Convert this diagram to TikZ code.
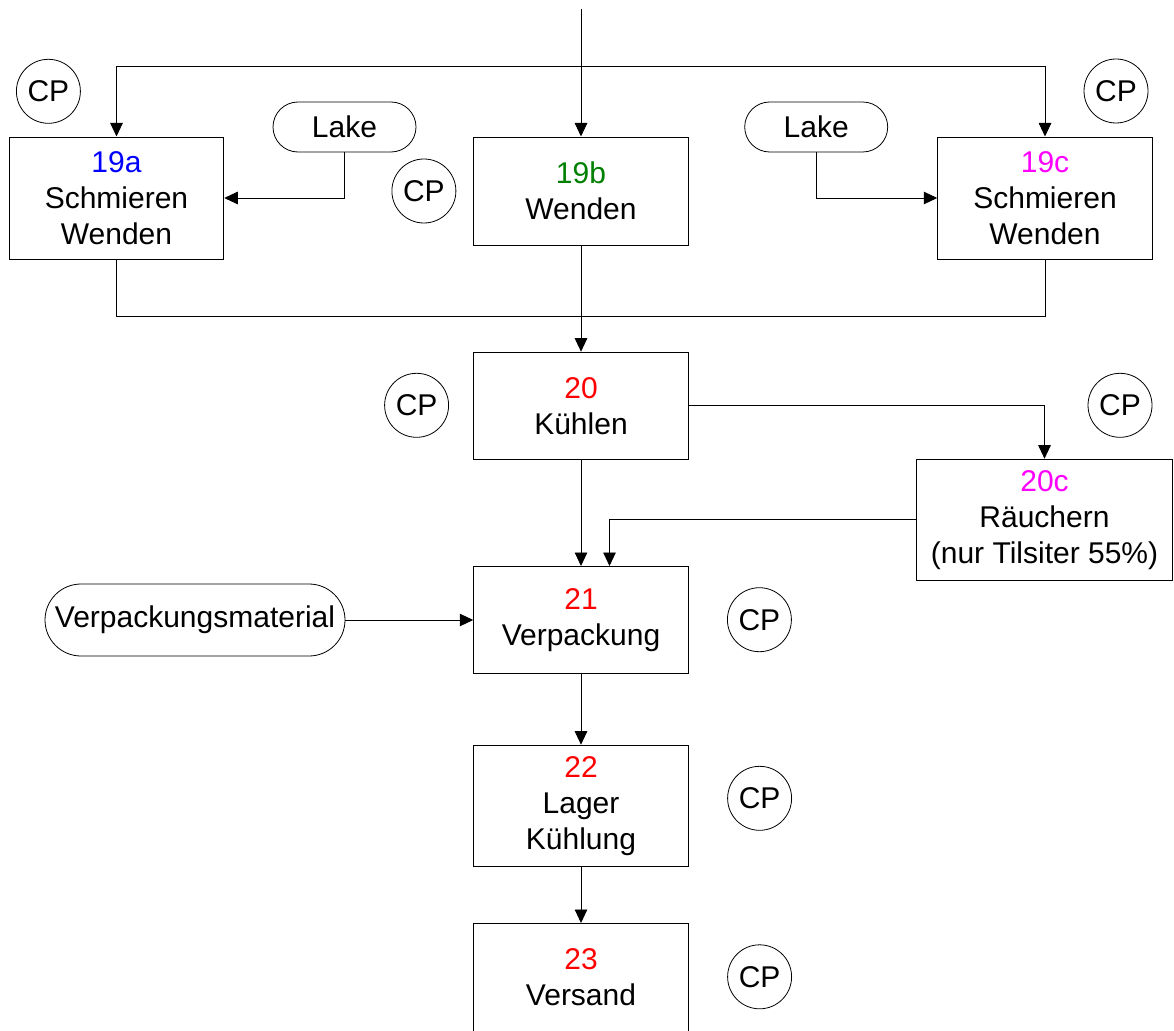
\documentclass[tikz,border=0pt]{standalone}
\usepackage{fontspec}
\setmainfont{Liberation Sans}
\usetikzlibrary{arrows.meta,calc}
\definecolor{numblue}{RGB}{0,0,255}
\definecolor{numgreen}{RGB}{0,128,0}
\definecolor{nummagenta}{RGB}{255,0,255}
\definecolor{numred}{RGB}{255,0,0}
\begin{document}
\begin{tikzpicture}[x=1pt,y=-1pt,
  every node/.style={font=\fontsize{30}{36}\selectfont, inner sep=0pt},
  stepbox/.style={draw, line width=1pt, align=center, minimum width=214.5pt},
  cp/.style={draw, circle, line width=0.8pt, minimum size=64pt},
  supply/.style={draw, line width=0.8pt, rounded corners=25pt, minimum height=50pt},
  flow/.style={-{Triangle[length=13.5pt,width=12.5pt]}, line width=0.9pt},
  plain/.style={line width=0.9pt}
]
\useasboundingbox[fill=white] (0,0) rectangle (1174,1030);

% process steps
\node[stepbox, minimum height=122pt] (s19a) at (116.5,198) {{\color{numblue}19a}\\Schmieren\\Wenden};
\node[stepbox, minimum height=108pt] (s19b) at (581,191) {{\color{numgreen}19b}\\Wenden};
\node[stepbox, minimum height=122pt] (s19c) at (1045,198) {{\color{nummagenta}19c}\\Schmieren\\Wenden};
\node[stepbox, minimum height=107pt] (s20) at (581,405.7) {{\color{numred}20}\\Kühlen};
\node[stepbox, minimum width=256pt, minimum height=121pt] (s20c) at (1044.5,519.7) {{\color{nummagenta}20c}\\Räuchern\\(nur Tilsiter 55\%)};
\node[stepbox, minimum height=107pt] (s21) at (581,620) {{\color{numred}21}\\Verpackung};
\node[stepbox, minimum height=121pt] (s22) at (581,805.7) {{\color{numred}22}\\Lager\\Kühlung};
\node[stepbox, minimum height=108pt] (s23) at (581,977.5) {{\color{numred}23}\\Versand};

% supplied materials
\node[supply, minimum width=143pt] (lake1) at (344.5,127) {Lake};
\node[supply, minimum width=143pt] (lake2) at (816.2,127) {Lake};
\node[supply, minimum width=300pt, minimum height=72pt, rounded corners=36pt] (vm) at (195,620) {Verpackungsmaterial};

% control points
\node[cp] (cp1) at (48.4,91.3) {CP};
\node[cp] (cp2) at (423.9,191) {CP};
\node[cp] (cp3) at (1116,91) {CP};
\node[cp] (cp4) at (416.6,405.3) {CP};
\node[cp] (cp5) at (1120,405.3) {CP};
\node[cp] (cp6) at (759.4,619.7) {CP};
\node[cp] (cp7) at (759.6,798.3) {CP};
\node[cp] (cp8) at (759.6,976.8) {CP};

% incoming line and distribution
\coordinate (in) at (581,9);
\coordinate (split) at (581,66);
\coordinate (join) at (581,316);
\draw[flow] (in) -- (s19b);
\draw[flow] (split) -| (s19a.north);
\draw[flow] (split) -| (s19c.north);

% brine feeds
\draw[flow] (lake1.south) |- (s19a.east);
\draw[flow] (lake2.south) |- (s19c.west);

% merge into cooling
\draw[plain] (s19a.south) |- (join);
\draw[plain] (s19c.south) |- (join);
\draw[flow] (s19b) -- (s20);

% smoking branch
\draw[flow] (s20.east) -| (s20c.north);
\draw[flow] (s20c.west) -| ([xshift=28.5pt]s21.north);

% main line
\draw[flow] (s20) -- (s21);
\draw[flow] (vm.east) -- (s21.west);
\draw[flow] (s21) -- (s22);
\draw[flow] (s22) -- (s23);
\end{tikzpicture}
\end{document}
